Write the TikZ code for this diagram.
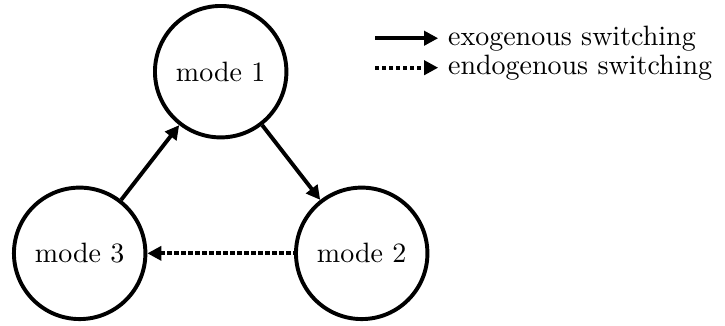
\documentclass[tikz,border=0pt]{standalone}
\usetikzlibrary{arrows.meta}
\begin{document}
\begin{tikzpicture}
    [>={Triangle[length=5pt,width=5pt]},
     mode/.style={shape=circle,draw=black,line width=1.4pt,minimum size=1.65cm},
     exo/.style={line width=1.4pt},
     endo/.style={exo,dash pattern=on 1.5pt off 1pt},
     key/.style={anchor=west,inner ysep=0pt}]
    \useasboundingbox (0,0) rectangle (9.1,4.08);
    \node [mode] (M1) at (2.77,3.18) {mode 1};
    \node [mode] (M2) at (4.54,0.90) {mode 2}
      edge [exo,<-] (M1);
    \node [mode] (M3) at (1.00,0.90) {mode 3}
      edge [endo,<-] (M2)
      edge [exo,->] (M1);
    % legend
    \coordinate (exoS) at (4.71,3.60);
    \coordinate (endoS) at (4.71,3.23);
    \node [key] (exoL) at (5.50,3.60) {exogenous switching};
    \node [key] (endoL) at (5.50,3.23) {endogenous switching};
    \draw [exo,->] (exoS) -- (exoL.west);
    \draw [endo,->] (endoS) -- (endoL.west);
  \end{tikzpicture}
\end{document}
